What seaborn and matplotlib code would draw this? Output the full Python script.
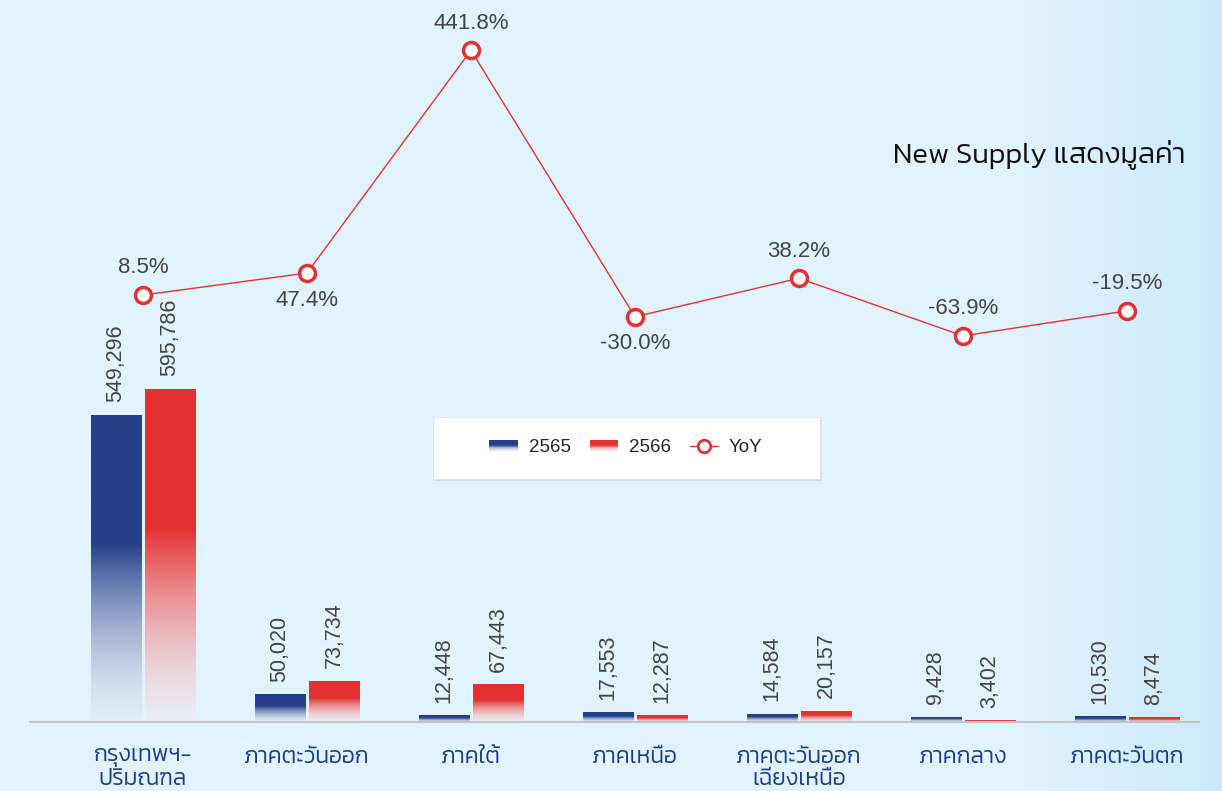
import numpy as np
import pandas as pd
import matplotlib
matplotlib.use("Agg")
import matplotlib.pyplot as plt
import matplotlib.colors as mcolors
import seaborn as sns
from matplotlib import font_manager
from matplotlib.patches import Rectangle, Patch
from matplotlib.lines import Line2D
from matplotlib.legend_handler import HandlerBase

# data
regions = ["กรุงเทพฯ-\nปริมณฑล", "ภาคตะวันออก", "ภาคใต้", "ภาคเหนือ",
           "ภาคตะวันออก\nเฉียงเหนือ", "ภาคกลาง", "ภาคตะวันตก"]
years = ["2565", "2566"]
supply_2565 = [549296, 50020, 12448, 17553, 14584, 9428, 10530]
supply_2566 = [595786, 73734, 67443, 12287, 20157, 3402, 8474]
yoy = [8.5, 47.4, 441.8, -30.0, 38.2, -63.9, -19.5]
yoy_side = ["above", "below", "above", "below", "above", "above", "above"]

BLUE = "#243f8a"
RED = "#e43131"
NUM_FONT = "Liberation Sans"

names = {f.name for f in font_manager.fontManager.ttflist}
THAI = "Kanit" if "Kanit" in names else "Noto Sans Thai"


def fade_colors(color, n):
    rgb = np.array(mcolors.to_rgb(color))
    t = np.linspace(0, 1, n)            # 0 = top, 1 = bottom
    f = np.clip((t - 0.42) / 0.58, 0, 1)
    mix = rgb[None, :] * (1 - 0.87 * f[:, None]) + 0.87 * f[:, None]
    alpha = 1 - 0.7 * f
    return np.concatenate([mix, alpha[:, None]], axis=1)


def gradient_fill(ax, patch, color):
    x, y = patch.get_x(), patch.get_y()
    w, h = patch.get_width(), patch.get_height()
    img = fade_colors(color, 256)[:, None, :]
    im = ax.imshow(img, extent=(x, x + w, y, y + h), origin="upper",
                   aspect="auto", zorder=2, interpolation="bilinear")
    im.set_clip_path(patch)
    patch.set_facecolor("none")
    patch.set_edgecolor("none")


class GradientHandler(HandlerBase):
    def __init__(self, color):
        super().__init__()
        self.color = color

    def create_artists(self, legend, orig_handle, xdescent, ydescent,
                       width, height, fontsize, trans):
        n = 14
        cols = fade_colors(self.color, n)
        arts = []
        for i in range(n):
            r = Rectangle((-xdescent, -ydescent + height * (1 - (i + 1) / n)),
                          width, height / n + 0.2, facecolor=cols[i],
                          edgecolor="none", transform=trans)
            arts.append(r)
        return arts


df = pd.DataFrame({
    "region": regions * 2,
    "year": [years[0]] * len(regions) + [years[1]] * len(regions),
    "value": supply_2565 + supply_2566,
})

sns.set_style("white")
plt.rcParams["font.family"] = [NUM_FONT, "DejaVu Sans"]

fig = plt.figure(figsize=(12.22, 7.91), dpi=100)

# light blue backdrop
bg = fig.add_axes([0, 0, 1, 1], zorder=-1)
xx = np.linspace(0, 1, 400)
ramp = np.clip((xx - 0.82) / 0.18, 0, 1)
left = np.array([0.886, 0.953, 0.994])
right = np.array([0.80, 0.915, 0.985])
grad = left[None, :] * (1 - ramp[:, None]) + right[None, :] * ramp[:, None]
bg.imshow(grad[None, :, :], aspect="auto", extent=(0, 1, 0, 1))
bg.axis("off")

ax = fig.add_axes([30 / 1222, 69 / 791, 1169 / 1222, 722 / 791])
ax.set_facecolor("none")
sns.barplot(data=df, x="region", y="value", hue="year",
            palette={years[0]: BLUE, years[1]: RED},
            width=0.66, gap=0.075, legend=False, ax=ax)

for container, color, vals in zip(ax.containers, [BLUE, RED], [supply_2565, supply_2566]):
    for patch in container:
        gradient_fill(ax, patch, color)
    ax.bar_label(container, labels=[f"{v:,}" for v in vals], rotation=90,
                 padding=9, fontsize=15.5, color="#444444", family=NUM_FONT)

ax.set_xlim(-0.689, 6.439)
ax.set_ylim(0, 1291600)
ax.set_xlabel("")
ax.set_ylabel("")
ax.set_yticks([])
ax.set_xticks(range(len(regions)))
ax.set_xticklabels(regions, fontsize=16.5, color="#1f3c88",
                   family=[THAI, "DejaVu Sans"], fontweight=300,
                   linespacing=1.18)
ax.tick_params(axis="x", length=0, pad=19)
for s in ["top", "right", "left"]:
    ax.spines[s].set_visible(False)
ax.spines["bottom"].set_color("#c4c4c4")
ax.spines["bottom"].set_linewidth(1.5)

# YoY line on its own scale
ax2 = ax.twinx()
sns.lineplot(x=list(range(len(regions))), y=yoy, ax=ax2, color=RED,
             linewidth=1, marker="o", markersize=11.5,
             markerfacecolor="white", markeredgecolor=RED,
             markeredgewidth=2.5)
ax2.set_ylim(-747.6, 530.9)
ax2.set_xlim(-0.689, 6.439)
ax2.axis("off")
for i, (v, side) in enumerate(zip(yoy, yoy_side)):
    off = 19.5 if side == "above" else -19.5
    ax2.annotate(f"{v:.1f}%", (i, v), xytext=(0, off), textcoords="offset points",
                 ha="center", va="center", fontsize=16, color="#444444",
                 family=NUM_FONT)

fig.text(1185 / 1222, 1 - 155 / 791, "New Supply แสดงมูลค่า", ha="right",
         va="center", fontsize=21, color="#111111",
         family=[THAI, "DejaVu Sans"], fontweight=300)

# legend box
bx, by, bw, bh = 433 / 1222, 1 - 479 / 791, 387 / 1222, 62 / 791
fig.add_artist(Rectangle((bx + 2 / 1222, by - 2 / 791), bw, bh,
                         transform=fig.transFigure, facecolor="#b8c8d8",
                         alpha=0.45, edgecolor="none", zorder=3))
fig.add_artist(Rectangle((bx, by), bw, bh, transform=fig.transFigure,
                         facecolor="white", edgecolor="#dde4ea",
                         linewidth=0.8, zorder=4))
h1 = Patch(color=BLUE)
h2 = Patch(color=RED)
h3 = Line2D([], [], color=RED, linewidth=1, marker="o", markersize=9,
            markerfacecolor="white", markeredgecolor=RED, markeredgewidth=2)
leg = fig.legend([h1, h2, h3], years + ["YoY"], loc="center",
                 bbox_to_anchor=(626 / 1222, 1 - 448 / 791), ncol=3,
                 frameon=False, fontsize=13.5, handlelength=1.5,
                 handleheight=0.55, handletextpad=0.6, columnspacing=1.0,
                 handler_map={h1: GradientHandler(BLUE), h2: GradientHandler(RED)})
leg.set_zorder(5)

fig.savefig("out.png", dpi=100)
